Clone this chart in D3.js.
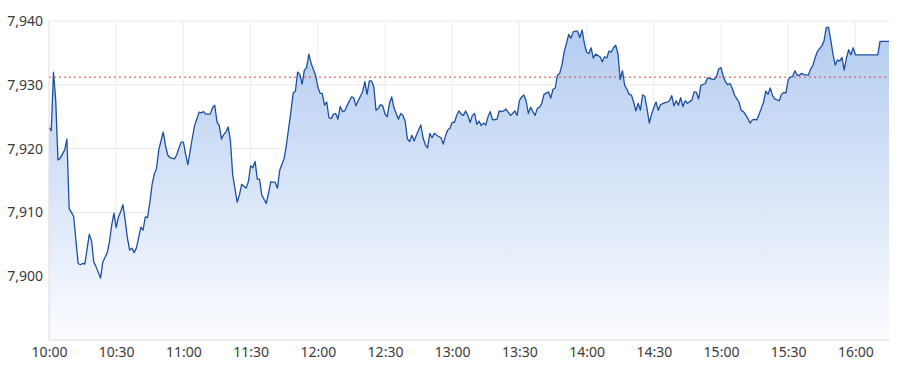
<!DOCTYPE html>
<html>
<head>
<meta charset="utf-8">
<script src="https://cdn.jsdelivr.net/npm/d3@7"></script>
<style>
  html, body { margin: 0; padding: 0; background: #fff; }
  svg { display: block; font-family: "Noto Sans", "Open Sans", sans-serif; }
</style>
</head>
<body>
<svg id="chart" width="900" height="375"></svg>
<script>
// minutes after 10:00 for each quote
const minuteOffsets = [
  0, 1, 2, 3, 4, 5, 7, 8, 9, 10, 11, 13, 14, 15, 16, 18, 19, 20, 21, 23,
  24, 26, 27, 28, 29, 30, 31, 32, 33, 34, 35, 36, 37, 38, 39, 40, 41, 42, 43, 44,
  45, 46, 47, 48, 49, 51, 52, 53, 54, 56, 57, 58, 59, 60, 61, 62, 64, 65, 67, 68,
  69, 70, 72, 73, 74, 75, 76, 77, 78, 79, 80, 81, 82, 83, 84, 85, 86, 88, 89, 90,
  91, 92, 93, 94, 95, 97, 98, 99, 101, 102, 103, 105, 106, 107, 108, 109, 110, 111, 112, 113,
  114, 115, 116, 117, 119, 120, 121, 122, 123, 124, 125, 126, 127, 128, 129, 130, 131, 132, 133, 135,
  136, 137, 138, 139, 140, 141, 142, 143, 144, 145, 146, 147, 148, 149, 150, 151, 152, 153, 154, 156,
  157, 158, 159, 160, 161, 162, 163, 164, 166, 167, 168, 169, 170, 171, 172, 173, 175, 176, 177, 178,
  179, 180, 181, 182, 183, 184, 185, 186, 187, 188, 189, 190, 191, 192, 193, 194, 195, 196, 197, 198,
  200, 201, 202, 203, 204, 206, 207, 208, 209, 210, 211, 212, 213, 214, 215, 216, 217, 218, 219, 220,
  221, 223, 224, 225, 226, 227, 228, 229, 230, 231, 232, 233, 234, 235, 236, 237, 238, 239, 240, 241,
  242, 243, 244, 246, 247, 248, 249, 250, 251, 252, 253, 254, 255, 256, 257, 258, 259, 260, 261, 262,
  263, 264, 265, 266, 267, 268, 269, 270, 271, 272, 273, 275, 276, 277, 278, 279, 280, 281, 282, 283,
  284, 285, 287, 288, 289, 290, 291, 293, 294, 296, 297, 298, 299, 300, 301, 302, 303, 304, 305, 306,
  308, 309, 310, 311, 312, 313, 314, 315, 316, 318, 319, 320, 321, 322, 323, 324, 326, 327, 328, 329,
  330, 331, 332, 333, 334, 335, 336, 337, 339, 340, 341, 342, 343, 345, 346, 347, 348, 349, 350, 351,
  352, 353, 354, 355, 356, 357, 358, 359, 360, 370, 371, 375
];

const prices = [
  7923.3, 7922.8, 7932.0, 7927.6, 7918.2, 7918.5, 7919.8, 7921.5, 7910.6, 7910.0, 7909.4, 7902.0, 7901.8, 7902.0, 7901.9, 7906.6, 7905.5, 7902.2, 7901.5, 7899.7,
  7902.2, 7903.7, 7905.4, 7908.0, 7909.9, 7907.6, 7909.3, 7910.1, 7911.2, 7908.8, 7906.0, 7904.1, 7904.4, 7903.7, 7904.4, 7906.0, 7907.7, 7907.2, 7909.3, 7909.2,
  7911.5, 7914.3, 7916.0, 7916.9, 7919.8, 7922.6, 7920.5, 7919.0, 7918.6, 7918.4, 7919.0, 7920.1, 7921.0, 7921.0, 7919.1, 7917.5, 7921.7, 7923.6, 7925.7, 7925.6,
  7925.8, 7925.4, 7925.4, 7926.4, 7926.8, 7924.2, 7923.6, 7921.5, 7922.2, 7922.6, 7923.4, 7921.2, 7915.9, 7913.8, 7911.6, 7912.7, 7914.4, 7913.8, 7914.8, 7917.3,
  7917.0, 7918.0, 7915.2, 7915.2, 7912.7, 7911.4, 7913.0, 7914.8, 7914.7, 7913.8, 7916.6, 7918.5, 7920.6, 7923.2, 7925.8, 7928.7, 7929.0, 7932.0, 7931.6, 7930.1,
  7932.3, 7932.7, 7934.8, 7933.4, 7931.5, 7929.7, 7928.7, 7928.6, 7926.8, 7927.3, 7924.8, 7924.7, 7925.4, 7925.5, 7924.6, 7926.6, 7925.8, 7925.9, 7926.7, 7928.1,
  7928.0, 7926.7, 7927.5, 7928.2, 7928.9, 7930.5, 7928.5, 7930.6, 7930.6, 7929.7, 7926.0, 7926.3, 7926.9, 7926.7, 7925.4, 7925.0, 7927.1, 7928.1, 7926.4, 7924.6,
  7925.5, 7925.2, 7924.3, 7921.5, 7921.1, 7922.1, 7921.2, 7922.1, 7923.7, 7921.7, 7920.6, 7920.1, 7922.4, 7921.7, 7922.4, 7922.1, 7921.7, 7920.7, 7922.0, 7922.9,
  7923.2, 7924.1, 7924.1, 7925.2, 7925.9, 7925.4, 7925.2, 7925.9, 7925.2, 7924.1, 7925.2, 7925.5, 7923.8, 7924.3, 7923.6, 7924.0, 7923.7, 7925.0, 7925.8, 7924.5,
  7924.6, 7925.9, 7925.8, 7925.9, 7926.2, 7925.2, 7925.5, 7925.9, 7925.2, 7927.5, 7928.1, 7928.4, 7927.5, 7925.5, 7926.5, 7925.8, 7925.2, 7926.3, 7926.5, 7927.1,
  7928.5, 7928.9, 7927.9, 7929.3, 7929.5, 7931.5, 7931.8, 7933.1, 7935.2, 7936.5, 7937.9, 7937.3, 7938.3, 7938.4, 7938.4, 7937.4, 7938.6, 7936.5, 7935.1, 7934.9,
  7935.8, 7934.2, 7934.8, 7934.4, 7933.6, 7934.4, 7934.2, 7935.3, 7935.1, 7935.8, 7936.2, 7934.9, 7930.8, 7932.2, 7929.9, 7929.3, 7928.5, 7928.4, 7927.3, 7925.9,
  7927.1, 7926.0, 7928.4, 7928.2, 7926.2, 7924.0, 7925.4, 7926.4, 7927.3, 7926.0, 7926.9, 7927.2, 7927.3, 7927.5, 7928.3, 7926.7, 7927.5, 7926.8, 7928.0, 7926.6,
  7927.5, 7927.1, 7927.6, 7928.9, 7928.8, 7927.8, 7929.9, 7930.2, 7931.1, 7930.9, 7930.8, 7931.3, 7932.5, 7932.7, 7931.3, 7930.5, 7930.0, 7930.2, 7929.5, 7928.4,
  7927.3, 7926.0, 7925.8, 7925.3, 7924.7, 7924.0, 7924.5, 7924.6, 7924.5, 7926.3, 7927.3, 7929.0, 7928.5, 7929.5, 7928.3, 7927.8, 7927.5, 7928.5, 7928.8, 7928.7,
  7930.8, 7931.2, 7931.3, 7932.2, 7931.5, 7931.5, 7931.8, 7931.6, 7931.5, 7932.5, 7933.0, 7934.2, 7935.2, 7936.1, 7936.9, 7939.0, 7939.0, 7937.0, 7934.8, 7933.1,
  7933.9, 7933.7, 7934.3, 7932.3, 7934.2, 7935.5, 7934.7, 7935.8, 7934.7, 7934.7, 7936.8, 7936.8
];

const previousClose = 7931.2;
const yTicks = [7900, 7910, 7920, 7930, 7940];
const xTickLabels = ['10:00', '10:30', '11:00', '11:30', '12:00', '12:30', '13:00', '13:30', '14:00', '14:30', '15:00', '15:30', '16:00'];

const margin = { top: 21, right: 11, bottom: 35, left: 49 };
const width = 900 - margin.left - margin.right;
const height = 375 - margin.top - margin.bottom;

const dayStart = new Date(2024, 0, 2, 10, 0);
const parseTime = d3.timeParse('%H:%M');
const atClock = s => { const t = parseTime(s); return new Date(2024, 0, 2, t.getHours(), t.getMinutes()); };

const data = minuteOffsets.map((m, i) => ({ t: d3.timeMinute.offset(dayStart, m), v: prices[i] }));

const svg = d3.select('#chart');
const g = svg.append('g').attr('transform', `translate(${margin.left},${margin.top})`);

const x = d3.scaleTime()
  .domain([dayStart, d3.timeMinute.offset(dayStart, 375)])
  .range([0, width]);

const y = d3.scaleLinear()
  .domain([7890, 7940])
  .range([height, 0]);

// gradient for the area
const grad = svg.append('defs').append('linearGradient')
  .attr('id', 'areaFill')
  .attr('gradientUnits', 'userSpaceOnUse')
  .attr('x1', 0).attr('x2', 0)
  .attr('y1', 0).attr('y2', height);
grad.append('stop').attr('offset', '0%').attr('stop-color', '#b2cbf0');
grad.append('stop').attr('offset', '100%').attr('stop-color', '#fbfcff');

// grid
g.append('g')
  .selectAll('line')
  .data(yTicks)
  .enter().append('line')
  .attr('x1', 0).attr('x2', width)
  .attr('y1', d => y(d)).attr('y2', d => y(d))
  .attr('stroke', '#e8e8e8');

g.append('g')
  .selectAll('line')
  .data(xTickLabels.slice(1))
  .enter().append('line')
  .attr('x1', d => x(atClock(d))).attr('x2', d => x(atClock(d)))
  .attr('y1', 0).attr('y2', height)
  .attr('stroke', '#ececec');

// area + line
g.append('path')
  .datum(data)
  .attr('fill', 'url(#areaFill)')
  .attr('d', d3.area().x(d => x(d.t)).y0(height).y1(d => y(d.v)));

// previous close reference
g.append('line')
  .attr('x1', 0).attr('x2', width)
  .attr('y1', y(previousClose)).attr('y2', y(previousClose))
  .attr('stroke', '#e0463a')
  .attr('stroke-width', 1)
  .attr('stroke-dasharray', '2,3');

g.append('path')
  .datum(data)
  .attr('fill', 'none')
  .attr('stroke', '#1d4f9f')
  .attr('stroke-width', 1.3)
  .attr('stroke-linejoin', 'round')
  .attr('d', d3.line().x(d => x(d.t)).y(d => y(d.v)));

// axis frame
g.append('line').attr('x1', 0).attr('x2', 0).attr('y1', 0).attr('y2', height).attr('stroke', '#dcdcdc');
g.append('line').attr('x1', 0).attr('x2', width).attr('y1', height).attr('y2', height).attr('stroke', '#dcdcdc');

// y labels
g.append('g')
  .attr('transform', 'translate(0,0)')
  .call(d3.axisLeft(y).tickValues(yTicks).tickFormat(d3.format(',')).tickSize(0).tickPadding(6))
  .call(a => a.select('.domain').remove())
  .selectAll('text')
  .attr('fill', '#3a3a3a')
  .style('font-size', '14px')
  .style('font-family', '"Noto Sans", sans-serif');

// x labels
g.append('g')
  .attr('transform', `translate(0,${height})`)
  .call(d3.axisBottom(x).tickValues(xTickLabels.map(atClock)).tickFormat(d3.timeFormat('%H:%M')).tickSize(0).tickPadding(7))
  .call(a => a.select('.domain').remove())
  .selectAll('text')
  .attr('fill', '#3a3a3a')
  .style('font-size', '14px')
  .style('font-family', '"Noto Sans", sans-serif');
</script>
</body>
</html>
